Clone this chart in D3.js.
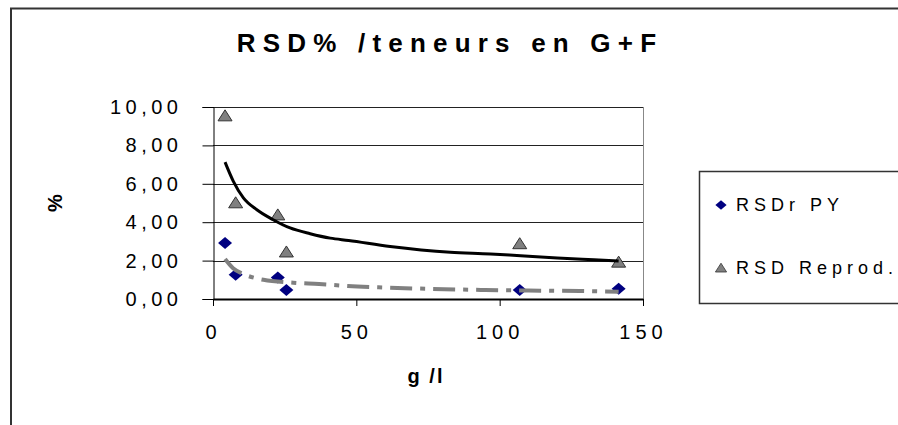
<!DOCTYPE html>
<html>
<head>
<meta charset="utf-8">
<script src="https://cdn.jsdelivr.net/npm/d3@7"></script>
<style>
  body { margin: 0; background: #fff; }
  svg { display: block; font-family: "Liberation Sans", Arial, sans-serif; }
</style>
</head>
<body>
<svg id="svg"></svg>
<script>
const width = 898;
const height = 425;

// values
const concentrations = [4.2, 7.9, 22.6, 25.6, 107, 141.5];
const rsdrPY = [2.92, 1.26, 1.12, 0.47, 0.47, 0.54];
const rsdReprod = [9.54, 5.01, 4.38, 2.45, 2.88, 1.92];

// trend lines as drawn in the picture
const trendReprodX = [4.2, 7.1, 10.6, 15.3, 20.5, 26.9, 33.9, 40.9, 47.3, 61.8, 82.8, 96.8, 107.3, 120.1, 132.9, 141.5];
const trendReprodY = [7.13, 6.13, 5.27, 4.65, 4.17, 3.70, 3.40, 3.17, 3.05, 2.74, 2.44, 2.35, 2.25, 2.13, 2.04, 1.98];
const trendPYX = [4.2, 7, 10.6, 17.6, 28, 37, 47, 60, 75, 95, 110, 128, 141.5];
const trendPYY = [2.08, 1.6, 1.3, 1.0, 0.85, 0.78, 0.68, 0.6, 0.53, 0.47, 0.44, 0.42, 0.38];

const xTicks = [0, 50, 100, 150];
const yTicks = [0, 2, 4, 6, 8, 10];
const seriesNames = ["RSDr PY", "RSD Reprod."];

const plot = {left: 213, right: 643, top: 107, bottom: 299};

let svg = d3.select("#svg").attr("width", width).attr("height", height);

let x = d3.scaleLinear().domain([0, 150]).range([plot.left, plot.right]);
let y = d3.scaleLinear().domain([0, 10]).range([plot.bottom, plot.top]);

const diamond = "M0,-6L7,0L0,6L-7,0Z";
const triangle = "M0,-6L7,5L-7,5Z";

// outer frame (cut by the picture edge)
svg.append("rect")
    .attr("x", 11).attr("y", 8.5)
    .attr("width", 1000).attr("height", 1000)
    .attr("fill", "none").attr("stroke", "#333").attr("stroke-width", 2);

// title
svg.append("text")
    .attr("x", 450).attr("y", 52)
    .attr("text-anchor", "middle")
    .style("font-size", "26px").style("font-weight", "bold")
    .style("letter-spacing", "7.2px")
    .text("RSD% /teneurs en G+F");

// gridlines
svg.append("g")
    .selectAll("line")
    .data(yTicks.filter(d => d > 0))
    .join("line")
        .attr("x1", plot.left).attr("x2", plot.right)
        .attr("y1", d => Math.round(y(d)) + 0.5).attr("y2", d => Math.round(y(d)) + 0.5)
        .attr("stroke", "#222").attr("stroke-width", 1);

// right edge of plot area
svg.append("line")
    .attr("x1", plot.right + 0.5).attr("x2", plot.right + 0.5)
    .attr("y1", plot.top).attr("y2", plot.bottom)
    .attr("stroke", "#888");

// y axis
let yAxis = d3.axisLeft(y)
    .tickValues(yTicks)
    .tickSize(11)
    .tickPadding(20)
    .tickFormat(d => d3.format(".2f")(d).replace(".", ","));

let gy = svg.append("g")
    .attr("transform", `translate(${plot.left + 0.5},0)`)
    .call(yAxis);
gy.selectAll("line").attr("stroke", "#000");
gy.select(".domain").attr("stroke", "#000");
gy.selectAll("text")
    .style("font-size", "20px")
    .style("letter-spacing", "4.5px")
    .style("font-family", "Liberation Sans, Arial, sans-serif")
    .attr("fill", "#000");

// x axis
let xAxis = d3.axisBottom(x)
    .tickValues(xTicks)
    .tickSize(7)
    .tickSizeOuter(0)
    .tickPadding(19);

let gx = svg.append("g")
    .attr("transform", `translate(0,${plot.bottom})`)
    .call(xAxis);
gx.selectAll("line").attr("stroke", "#000");
gx.select(".domain").attr("stroke", "#000").attr("stroke-width", 2);
gx.selectAll("text")
    .style("font-size", "20px")
    .style("letter-spacing", "5px")
    .style("font-family", "Liberation Sans, Arial, sans-serif")
    .attr("fill", "#000");

// axis titles
svg.append("text")
    .attr("x", 426).attr("y", 383)
    .attr("text-anchor", "middle")
    .style("font-size", "20px").style("font-weight", "bold")
    .style("letter-spacing", "2px")
    .text("g /l");

svg.append("text")
    .attr("transform", "translate(62,203) rotate(-90)")
    .attr("text-anchor", "middle")
    .style("font-size", "20px").style("font-weight", "bold")
    .text("%");

// markers
svg.append("g")
    .selectAll("path")
    .data(concentrations.map((c, i) => [c, rsdrPY[i]]))
    .join("path")
        .attr("d", diamond)
        .attr("transform", d => `translate(${x(d[0])},${y(d[1])})`)
        .attr("fill", "#000080");

svg.append("g")
    .selectAll("path")
    .data(concentrations.map((c, i) => [c, rsdReprod[i]]))
    .join("path")
        .attr("d", triangle)
        .attr("transform", d => `translate(${x(d[0])},${y(d[1])})`)
        .attr("fill", "#808080")
        .attr("stroke", "#333")
        .attr("stroke-width", 1);

// trend lines
let line = d3.line().x(d => x(d[0])).y(d => y(d[1])).curve(d3.curveMonotoneX);

svg.append("path")
    .datum(trendPYX.map((v, i) => [v, trendPYY[i]]))
    .attr("d", line)
    .attr("fill", "none")
    .attr("stroke", "#808080")
    .attr("stroke-width", 4)
    .attr("stroke-dasharray", "22,8,5,8");

svg.append("path")
    .datum(trendReprodX.map((v, i) => [v, trendReprodY[i]]))
    .attr("d", line)
    .attr("fill", "none")
    .attr("stroke", "#000")
    .attr("stroke-width", 3);

// legend
let legend = svg.append("g");
legend.append("rect")
    .attr("x", 699.5).attr("y", 171.5)
    .attr("width", 300).attr("height", 132)
    .attr("fill", "none").attr("stroke", "#333").attr("stroke-width", 1.5);

let items = legend.selectAll("g.item")
    .data(seriesNames)
    .join("g")
        .attr("class", "item")
        .attr("transform", (d, i) => `translate(721,${205 + i * 63})`);

items.append("path")
    .attr("d", (d, i) => i === 0 ? diamond : triangle)
    .attr("transform", "scale(0.8)")
    .attr("fill", (d, i) => i === 0 ? "#000080" : "#808080")
    .attr("stroke", (d, i) => i === 0 ? "none" : "#333");

items.append("text")
    .attr("x", 15).attr("y", 6)
    .style("font-size", "18px")
    .style("letter-spacing", "5px")
    .text(d => d);
</script>
</body>
</html>
